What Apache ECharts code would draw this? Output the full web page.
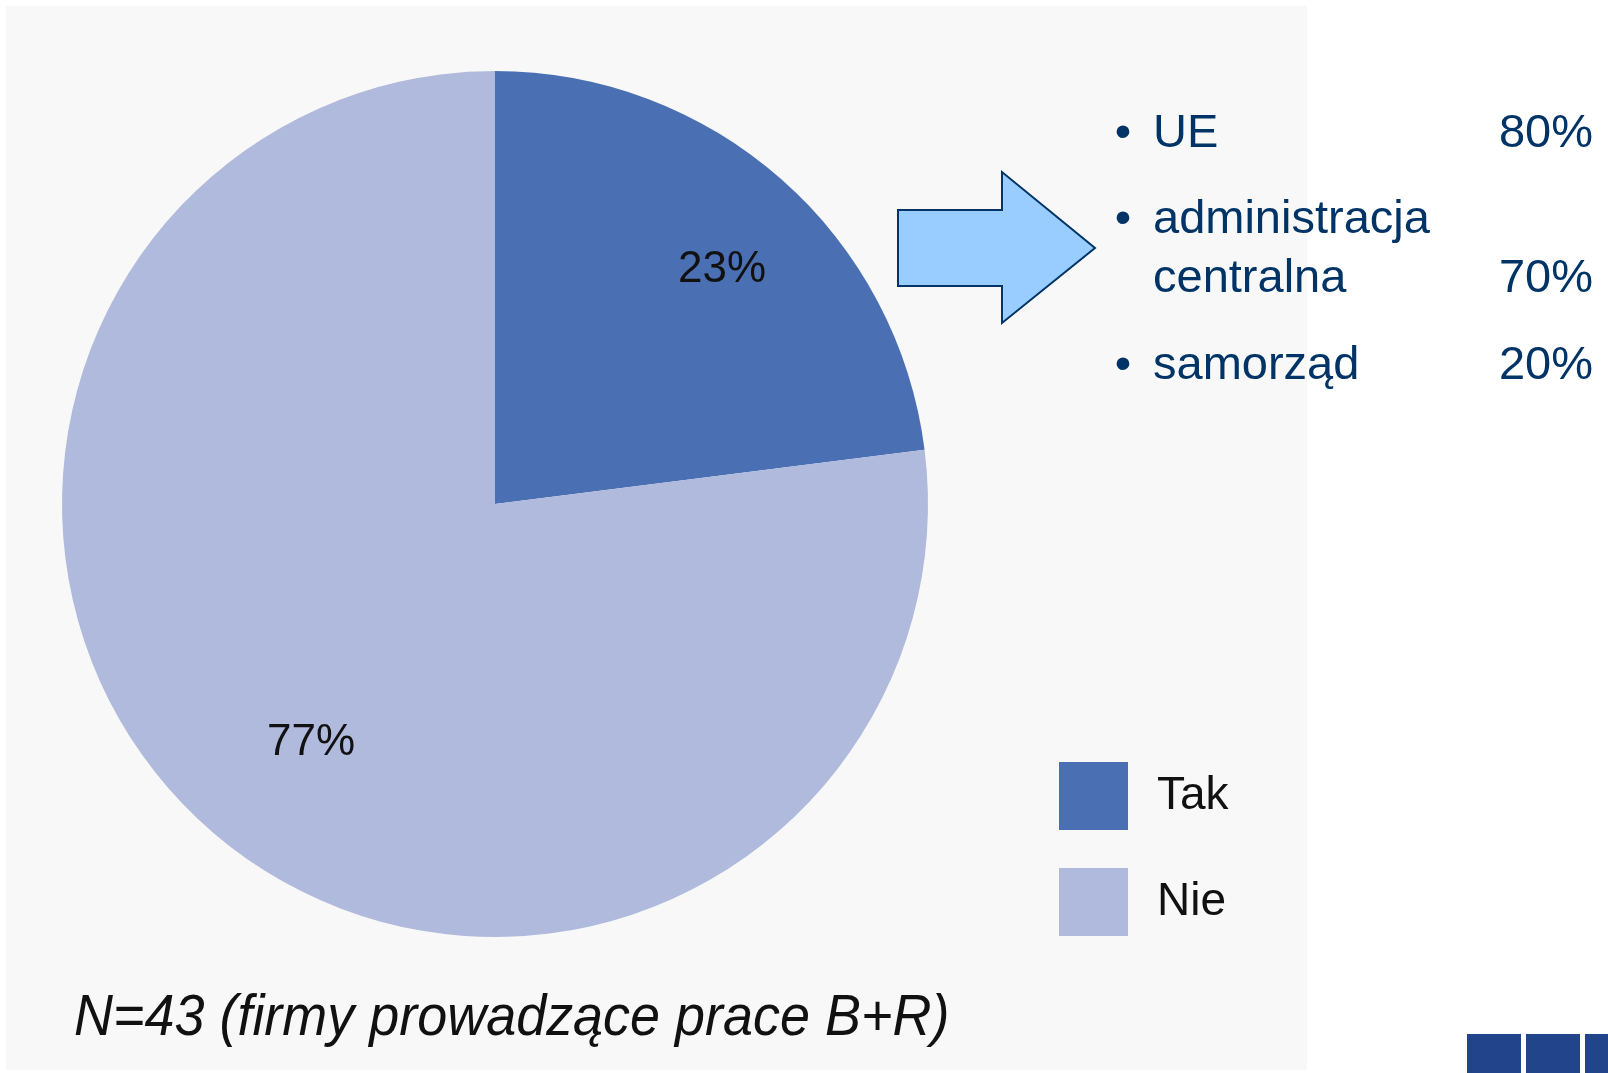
<!DOCTYPE html>
<html>
<head>
<meta charset="utf-8">
<script src="https://cdn.jsdelivr.net/npm/echarts@6/dist/echarts.min.js"></script>
<style>
html,body{margin:0;padding:0;background:#ffffff;}
#chart{width:1608px;height:1073px;}
</style>
</head>
<body>
<div id="chart"></div>
<script>
// ---- data ----
const categories = ['Tak', 'Nie'];
const shares = [23, 77];
const listLabels = [['UE'], ['administracja', 'centralna'], ['samorząd']];
const listValues = ['80%', '70%', '20%'];
const footnote = 'N=43 (firmy prowadzące prace B+R)';

// ---- styles ----
const sliceColors = ['#4a70b3', '#afbadc'];
const labelOffsets = [[19, 2], [24, 3]];
const navy = '#003366';
const fontMain = '"Liberation Sans", Arial, sans-serif';

const pieData = categories.map((c, i) => ({ name: c, value: shares[i], itemStyle: { color: sliceColors[i] } }));

// right-hand list graphics
const listGraphics = [];
const lineYs = [[134], [220, 279], [366]];
listLabels.forEach((lines, i) => {
  listGraphics.push({
    type: 'text', x: 1123, y: lineYs[i][0],
    style: { text: '•', font: '47px ' + fontMain, fill: navy, align: 'center', verticalAlign: 'middle' }
  });
  lines.forEach((ln, j) => {
    listGraphics.push({
      type: 'text', x: 1153, y: lineYs[i][j],
      style: { text: ln, font: '47px ' + fontMain, fill: navy, align: 'left', verticalAlign: 'middle' }
    });
  });
  listGraphics.push({
    type: 'text', x: 1593, y: lineYs[i][lines.length - 1],
    style: { text: listValues[i], font: '47px ' + fontMain, fill: navy, align: 'right', verticalAlign: 'middle' }
  });
});

const chart = echarts.init(document.getElementById('chart'), null, { renderer: 'canvas' });
chart.setOption({
  backgroundColor: '#ffffff',
  animation: false,
  legend: {
    orient: 'vertical',
    left: 1059 - 5,
    top: 762 - 5,
    itemWidth: 69,
    itemHeight: 68,
    itemGap: 38,
    icon: 'rect',
    selectedMode: false,
    data: categories,
    textStyle: { fontSize: 46, fontFamily: fontMain, color: '#111', padding: [0, 0, 0, 24] }
  },
  graphic: [
    { type: 'rect', z: -10, shape: { x: 6, y: 6, width: 1301, height: 1064 }, style: { fill: '#f8f8f8' } },
    {
      type: 'polygon', z: 10,
      shape: { points: [[898, 210], [1002, 210], [1002, 172], [1095, 248], [1002, 323], [1002, 286], [898, 286]] },
      style: { fill: '#99ccff', stroke: navy, lineWidth: 2 }
    },
    { type: 'rect', shape: { x: 1467, y: 1034, width: 54, height: 40 }, style: { fill: '#22448a' } },
    { type: 'rect', shape: { x: 1526, y: 1034, width: 54, height: 40 }, style: { fill: '#22448a' } },
    { type: 'rect', shape: { x: 1585, y: 1034, width: 54, height: 40 }, style: { fill: '#22448a' } },
    {
      type: 'text', x: 74, y: 1019, scaleX: 0.93, originX: 0,
      style: { text: footnote, font: 'italic 58px ' + fontMain, fill: '#111', align: 'left', verticalAlign: 'middle' }
    }
  ].concat(listGraphics),
  series: [
    {
      type: 'pie',
      center: [495, 504],
      radius: [0, 433],
      startAngle: 90,
      clockwise: true,
      silent: true,
      label: { show: false },
      labelLine: { show: false },
      emphasis: { disabled: true },
      itemStyle: { borderWidth: 0 },
      data: pieData
    },
    {
      type: 'pie',
      center: [495, 504],
      radius: [190, 433],
      startAngle: 90,
      clockwise: true,
      silent: true,
      legendHoverLink: false,
      emphasis: { disabled: true },
      itemStyle: { color: 'rgba(0,0,0,0)', borderWidth: 0 },
      label: {
        show: true, position: 'inside',
        formatter: '{c}%', fontSize: 44, fontFamily: fontMain, color: '#111'
      },
      labelLine: { show: false },
      data: categories.map((c, i) => ({ name: c + ' ', value: shares[i], label: { offset: labelOffsets[i] } }))
    }
  ]
});
</script>
</body>
</html>
